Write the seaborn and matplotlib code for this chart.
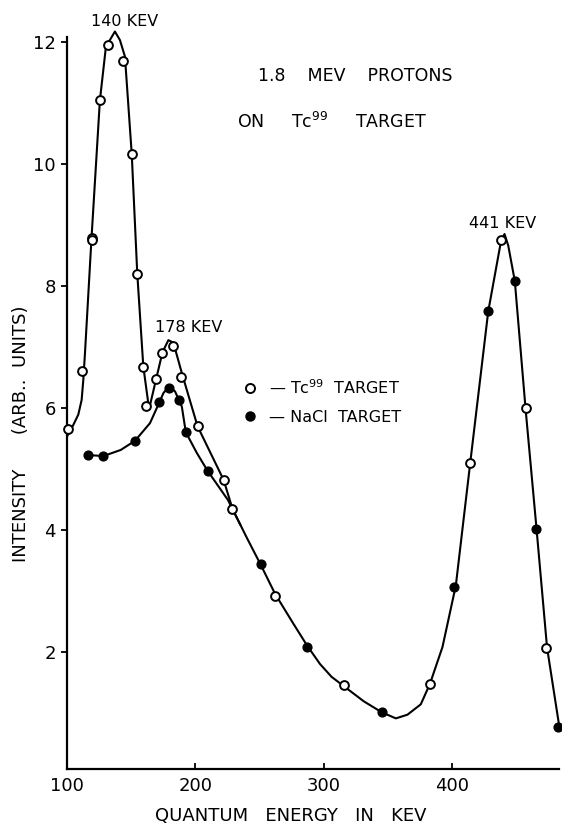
import pandas as pd
import seaborn as sns
import matplotlib.pyplot as plt
from matplotlib.lines import Line2D

# measured points, Tc99 target (open circles)
tc_energy = [101.0, 111.7, 119.1, 119.6, 125.7, 132.2, 143.9, 150.4, 154.8, 159.5,
             161.3, 169.1, 174.3, 182.9, 188.9, 201.6, 221.9, 228.8, 262.1, 315.9,
             382.4, 413.6, 437.5, 457.0, 473.1]
tc_intensity = [5.65, 6.60, 8.79, 8.76, 11.04, 11.95, 11.69, 10.16, 8.19, 6.67,
                6.03, 6.47, 6.90, 7.02, 6.51, 5.70, 4.82, 4.34, 2.92, 1.45,
                1.48, 5.09, 8.75, 6.00, 2.06]

# measured points, NaCl target (filled circles)
nacl_energy = [116.6, 128.3, 153.0, 171.9, 179.5, 186.8, 192.5, 209.4, 251.0, 286.8,
               345.3, 401.1, 427.6, 448.6, 465.3, 482.4]
nacl_intensity = [5.23, 5.21, 5.46, 6.09, 6.33, 6.13, 5.60, 4.97, 3.44, 2.08,
                  1.01, 3.07, 7.58, 8.08, 4.01, 0.77]

# hand drawn curves
tc_curve_e = [100.0, 104.9, 108.8, 111.4, 112.7, 114.0, 119.1, 125.6, 130.3, 137.3,
              141.2, 145.1, 150.4, 154.7, 159.4, 163.9, 167.8, 174.3, 178.9, 182.8,
              189.4, 201.6, 221.9, 228.9, 240.0, 251.0, 262.0, 276.0, 287.0, 297.0,
              306.0, 316.0, 331.0, 345.0, 356.0, 365.0, 375.4, 382.6, 392.3, 402.7,
              413.9, 427.9, 438.0, 440.6, 443.5, 448.6, 457.0, 465.5, 473.7, 483.2]
tc_curve_v = [5.53, 5.72, 5.89, 6.13, 6.46, 6.90, 8.79, 11.04, 11.92, 12.17,
              12.03, 11.76, 10.16, 8.20, 6.68, 5.98, 6.33, 6.91, 7.11, 7.07,
              6.57, 5.70, 4.82, 4.34, 3.87, 3.42, 2.95, 2.47, 2.10, 1.80,
              1.59, 1.43, 1.19, 1.01, 0.91, 0.97, 1.14, 1.48, 2.08, 3.09,
              5.10, 7.58, 8.75, 8.85, 8.66, 8.08, 5.98, 4.02, 2.07, 0.78]
nacl_curve_e = [114.8, 128.3, 141.8, 152.9, 164.6, 171.9, 175.0, 179.5, 184.1, 189.4,
                192.5, 201.1, 209.4, 225.3, 235.0]
nacl_curve_v = [5.23, 5.21, 5.31, 5.46, 5.75, 6.09, 6.24, 6.36, 6.27, 6.02,
                5.60, 5.26, 4.97, 4.49, 4.08]

peak_labels = ["140 KEV", "178 KEV", "441 KEV"]
peak_pos = [(144.5, 12.33), (194.5, 7.31), (439.5, 9.03)]

sns.set_theme(style="ticks")
plt.rcParams['font.family'] = ['DejaVu Sans']
plt.rcParams.update({'text.color': 'black', 'axes.labelcolor': 'black',
                     'xtick.color': 'black', 'ytick.color': 'black',
                     'axes.edgecolor': 'black'})

fig = plt.figure(figsize=(5.62, 8.24), dpi=100)
ax = fig.add_axes([67 / 562, 1 - 769 / 824, 492 / 562, 732 / 824])

tc_line = pd.DataFrame({'e': tc_curve_e, 'v': tc_curve_v})
nacl_line = pd.DataFrame({'e': nacl_curve_e, 'v': nacl_curve_v})
sns.lineplot(data=tc_line, x='e', y='v', sort=False, color='black', lw=1.5,
             ax=ax, clip_on=False)
sns.lineplot(data=nacl_line, x='e', y='v', sort=False, color='black', lw=1.5,
             ax=ax, clip_on=False)

sns.scatterplot(x=tc_energy, y=tc_intensity, marker='o', s=40, facecolor='white',
                edgecolor='black', linewidth=1.4, ax=ax, zorder=3, clip_on=False)
sns.scatterplot(x=nacl_energy, y=nacl_intensity, marker='o', s=40, color='black',
                edgecolor='black', linewidth=1.0, ax=ax, zorder=3, clip_on=False)

ax.set_xlim(100, 483)
ax.set_ylim(0.08, 12.08)
ax.set_xticks([100, 200, 300, 400])
ax.set_yticks([2, 4, 6, 8, 10, 12])
ax.tick_params(axis='x', direction='in', length=4, width=1.3, labelsize=13, pad=6)
ax.tick_params(axis='y', direction='out', length=4, width=1.3, labelsize=13, pad=4)
for side in ['top', 'right']:
    ax.spines[side].set_visible(False)
for side in ['left', 'bottom']:
    ax.spines[side].set_linewidth(1.6)

ax.set_xlabel("QUANTUM   ENERGY   IN   KEV", fontsize=13)
ax.xaxis.set_label_coords(0.455, -0.052)
ax.set_ylabel("INTENSITY      (ARB..  UNITS)", fontsize=13)
ax.yaxis.set_label_coords(-0.075, 0.458)

for lab, (x, y) in zip(peak_labels, peak_pos):
    ax.text(x, y, lab, ha='center', va='center', fontsize=11.5, clip_on=False)

ax.text(324.6, 11.44, "1.8    MEV    PROTONS", ha='center', va='center', fontsize=12.5)
ax.text(232.6, 10.69, "ON     Tc$^{99}$     TARGET", ha='left', va='center',
        fontsize=12.5)

handles = [Line2D([], [], ls='none', marker='o', markersize=6.5, mfc='white',
                  mec='black', mew=1.4),
           Line2D([], [], ls='none', marker='o', markersize=6.5, mfc='black',
                  mec='black')]
ax.legend(handles, ["\u2014 Tc$^{99}$  TARGET", "\u2014 NaCl  TARGET"],
          loc='upper left', bbox_to_anchor=(0.34, 0.545), frameon=False,
          prop={'size': 11.5}, handlelength=1.0,
          handletextpad=0.7, borderpad=0, labelspacing=0.8)

fig.savefig("out.png", dpi=100)
